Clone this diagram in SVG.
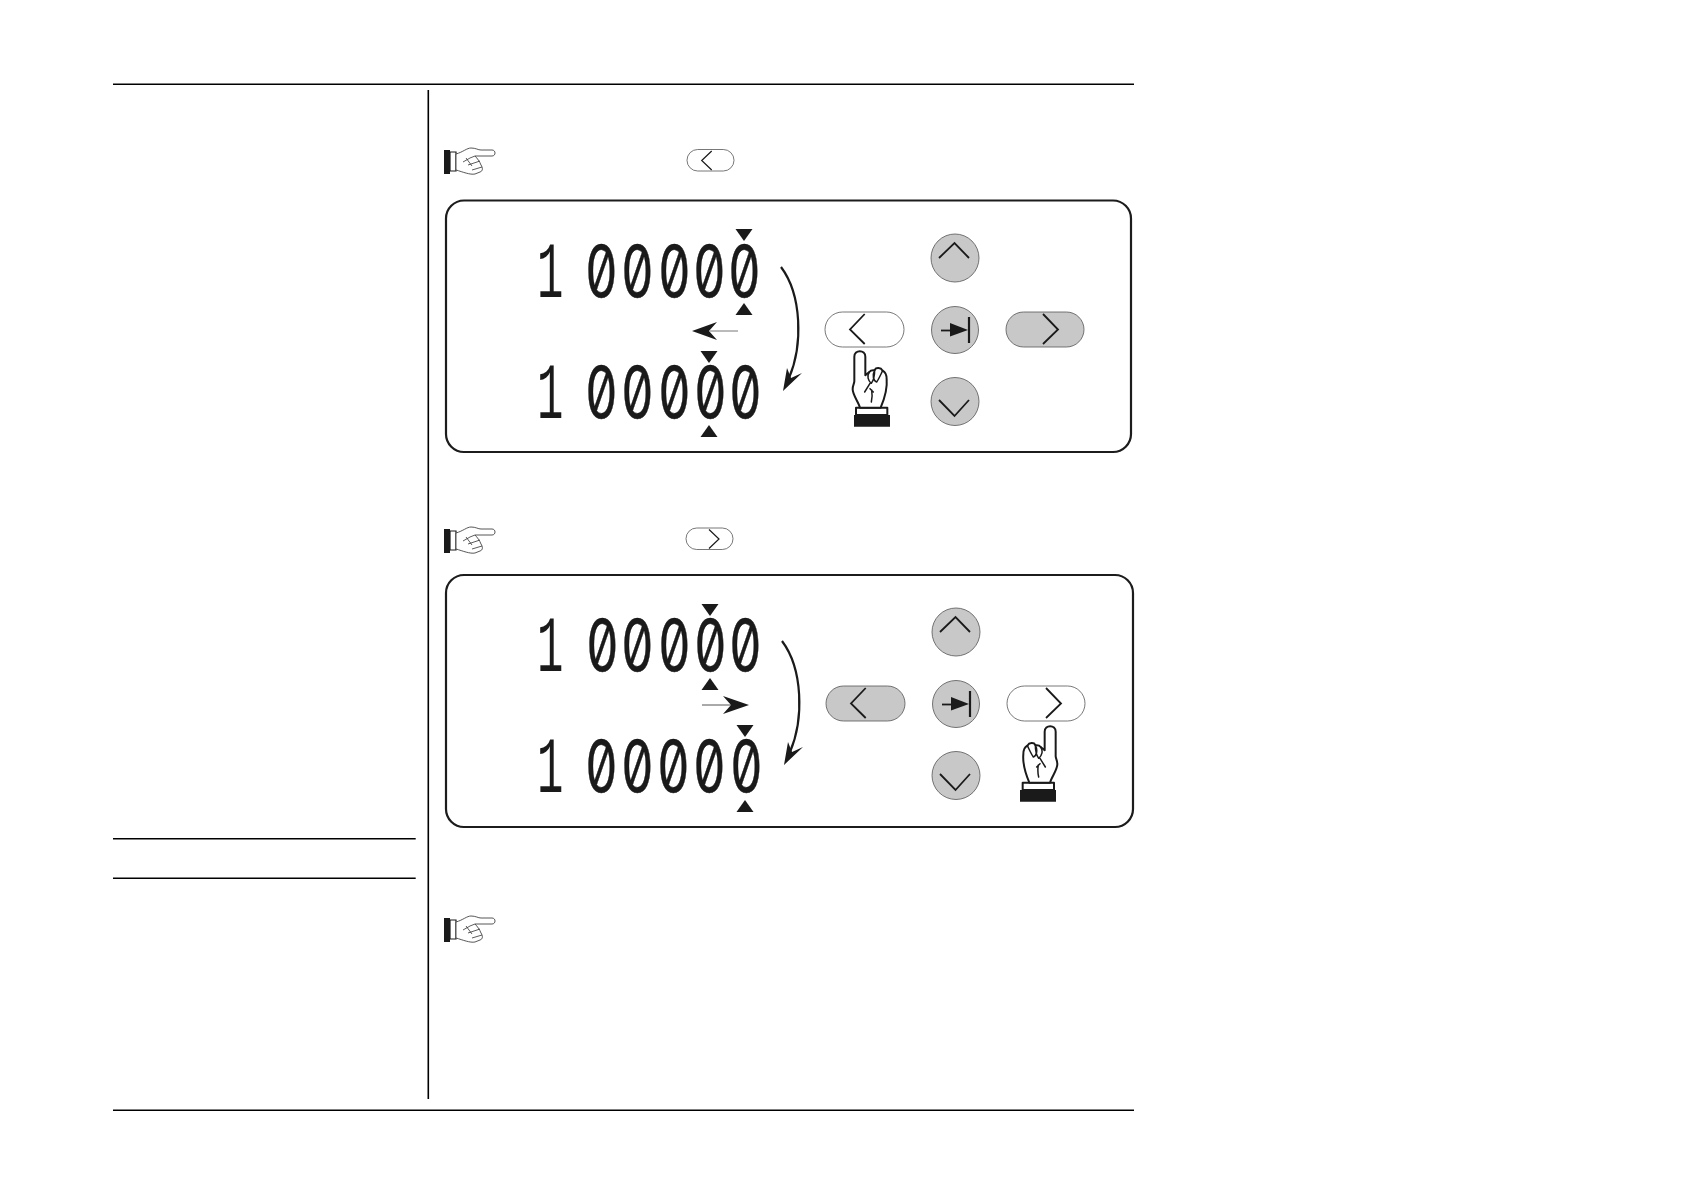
<svg xmlns="http://www.w3.org/2000/svg" width="1684" height="1190" viewBox="0 0 1684 1190">
<style>
.rule{stroke:#000;stroke-width:1.6;fill:none}
.panel{fill:#fff;stroke:#1c1c1c;stroke-width:2.200}
.key{fill:#c8c8c8;stroke:#555;stroke-width:.8}
.off{fill:#fff;stroke:#555;stroke-width:.8}
.chev{fill:none;stroke:#1a1a1a;stroke-width:1.800}
.curve{fill:none;stroke:#1a1a1a;stroke-width:2.200}
.ink{fill:#1a1a1a}
.hand{fill:#fff;stroke:#1a1a1a;stroke-width:6;stroke-linejoin:round;stroke-linecap:round}
.thin{fill:none;stroke:#1a1a1a;stroke-width:4.500;stroke-linecap:round;stroke-linejoin:round}
.one{font-family:"Liberation Mono",monospace;font-size:80px;fill:#1a1a1a}
.zero{font-family:"Inter","Liberation Sans",sans-serif;font-weight:400;font-size:71px;font-variant-numeric:slashed-zero;font-feature-settings:"zero" 1;fill:#1a1a1a;stroke:#1a1a1a;stroke-width:.4}
</style>
<defs>
<g id="fist">
<path class="hand" d="M78 225V203H172V225Z"/>
<path class="ink" d="M72 225H180V260H72Z"/>
<path class="hand" d="M90 203C85 185 68 165 68 148C68 135 73 130 73 124V50C73 28 106 28 106 50V106L118 96C124 88 130 92 134 90C138 82 152 82 158 92C166 96 170 105 170 118C172 140 168 165 152 203Z"/>
<path class="thin" d="M118 96C110 108 114 122 124 130C130 122 134 108 134 90M134 90C126 106 130 122 140 126C146 118 152 104 158 92M104 156L120 130M120 146L130 156M125 150C127 162 127 174 124 186"/>
</g>
<g id="point">
<path class="ink" d="M444 150H450V174H444Z"/>
<path fill="#fff" stroke="#1a1a1a" stroke-width="1.200" d="M450 152H456V171H450Z"/>
<path fill="#fff" stroke="#444" stroke-width=".9" stroke-linejoin="round" d="M456 154C463 152 467 148 471 148C476 148 478 150 481 150H492C496 150 496 156 492 156H475C477 158 480 162 481 165C483 168 483 171 480 172L475 174C470 175 463 172 456 170Z"/>
<path fill="none" stroke="#333" stroke-width=".8" d="M463 162L470 158L475 156M466 158L472 166M468 165L480 161M472 170L482 167"/>
</g>
<path id="tdown" class="ink" d="M-8.500 0H8.500L0 12Z"/>
<path id="tup" class="ink" d="M-8.500 12H8.500L0 0Z"/>
<g id="pad">
<circle class="key" cx="955" cy="258" r="24"/>
<circle class="key" cx="955" cy="330" r="23.500"/>
<circle class="key" cx="955" cy="401.500" r="24"/>
<path class="chev" d="M939 258L954.500 243L969 258"/>
<path class="chev" d="M939 400L954.500 416L969 400"/>
<path class="chev" d="M941 330.500H953"/>
<path class="ink" d="M950 323L968 330L950 336.500Z"/>
<path d="M969 317V343" stroke="#1a1a1a" stroke-width="2.200"/>
<path class="ink" d="M783 391L787 368L791 378L802 373Z"/>
<path class="curve" d="M781 267C802 295 803 345 789 378"/>
</g>
</defs>
<rect width="1684" height="1190" fill="#fff"/>
<g id="page-rules">
<path class="rule" d="M113 84.300H1134M113 1110.300H1134M428.300 90V1099M113 838.700H415.700M113 878.300H415.700"/>
</g>
<g id="pointer-1"><use href="#point"/></g>
<g id="key-left-small"><rect class="off" x="687" y="149.500" width="47" height="21.500" rx="10.700"/><path class="chev" style="stroke-width:1.200" d="M711.700 151L701.700 160.500L711.700 170"/></g>
<g id="panel-1">
<rect class="panel" x="446" y="200.500" width="685" height="251.500" rx="18"/>
<text class="one" transform="translate(537 297) scale(.55 1)">1</text>
<text class="zero" transform="translate(585.500 297) scale(.71 1)" x="0 50.700 102.800 152.100 201.400">00000</text>
<use href="#tdown" x="744" y="229"/><use href="#tup" x="744" y="303"/>
<path d="M738 331H710" stroke="#777" stroke-width="1"/><path class="ink" d="M692 331L717 322L709 331L717 340Z"/>
<use href="#tdown" x="709" y="351"/><use href="#tup" x="709" y="425"/>
<text class="one" transform="translate(537 418) scale(.55 1)">1</text>
<text class="zero" transform="translate(585.500 418) scale(.71 1)" x="0 50.700 102.800 153.500 202.800">00000</text>
<use href="#pad"/>
<rect class="off" x="825" y="312" width="79" height="35" rx="17.500"/><path class="chev" d="M864.700 314L850 329.500L864.700 344"/>
<rect class="key" x="1006" y="312" width="78" height="35" rx="17.500"/><path class="chev" d="M1043 314L1058 329.500L1043 344"/>
<use href="#fist" transform="translate(830 340) scale(.3333)"/>
</g>
<g id="pointer-2"><use href="#point" y="379"/></g>
<g id="key-right-small"><rect class="off" x="686" y="528" width="47" height="21.500" rx="10.700"/><path class="chev" style="stroke-width:1.200" d="M709 529.500L719 539L709 548.500"/></g>
<g id="panel-2">
<rect class="panel" x="446" y="575" width="687" height="252" rx="18"/>
<text class="one" transform="translate(537 671) scale(.55 1)">1</text>
<text class="zero" transform="translate(586.500 671) scale(.71 1)" x="0 49.300 101.400 152.100 201.400">00000</text>
<use href="#tdown" x="710" y="604"/><use href="#tup" x="710" y="678"/>
<path d="M702 705H732" stroke="#555" stroke-width="1"/><path class="ink" d="M749 705L723 696L731 705L723 714Z"/>
<use href="#tdown" x="745" y="725"/><use href="#tup" x="745" y="800"/>
<text class="one" transform="translate(537 792) scale(.55 1)">1</text>
<text class="zero" transform="translate(585.500 792) scale(.71 1)" x="0 50.700 101.400 152.100 204.200">00000</text>
<use href="#pad" transform="translate(1 374)"/>
<rect class="key" x="826" y="686" width="79" height="35" rx="17.500"/><path class="chev" d="M865.700 688L851 703.500L865.700 718"/>
<rect class="off" x="1007" y="686" width="78" height="35" rx="17.500"/><path class="chev" d="M1046 688L1061 703.500L1046 718"/>
<use href="#fist" transform="matrix(-.3333 0 0 .3333 1080 715)"/>
</g>
<g id="pointer-3"><use href="#point" y="768"/></g>
</svg>
